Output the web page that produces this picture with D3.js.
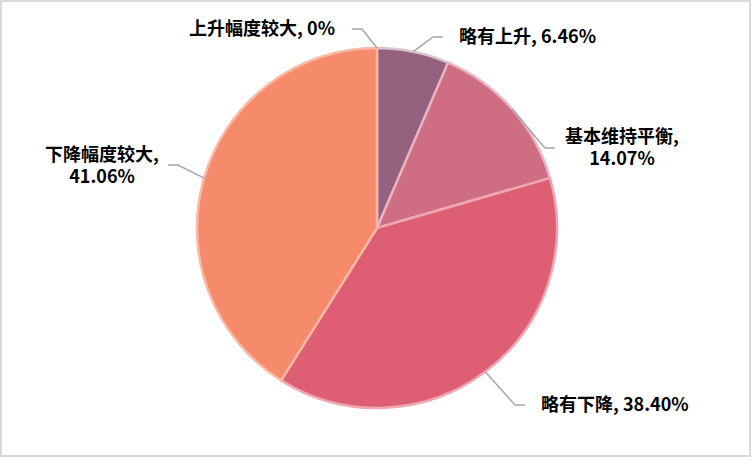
<!DOCTYPE html>
<html>
<head>
<meta charset="utf-8">
<script src="https://cdn.jsdelivr.net/npm/d3@7"></script>
<style>
  html, body { margin: 0; padding: 0; background: #fff; }
  svg { display: block; }
  .lbl { font-family: "Microsoft YaHei", "Noto Sans CJK SC", sans-serif; font-weight: bold; font-size: 18px; fill: #000; }
</style>
</head>
<body>
<svg id="chart" width="753" height="472"></svg>
<script>
// Data
const categories = ["上升幅度较大", "略有上升", "基本维持平衡", "略有下降", "下降幅度较大"];
const values = [0, 6.46, 14.07, 38.40, 41.06];
const valueLabels = ["0%", "6.46%", "14.07%", "38.40%", "41.06%"];

const fills = ["#b0b0c8", "#94627f", "#cf6e82", "#de5f73", "#f58b6b"];
const strokes = ["#e0d0dc", "#d9c3d0", "#eab3bf", "#f0a6b2", "#fab8a2"];

// Label layout, relative to pie centre: elbow of leader, end of the
// horizontal segment, text anchor point
const labelLayout = [
  { elbow: [-15, -199], end: [-25, -199], text: [-42, -199], anchor: "end", lines: 1 },
  { elbow: [56, -191], end: [66, -191], text: [82, -191], anchor: "start", lines: 1 },
  { elbow: [168, -80], end: [178, -80], text: [245, -80], anchor: "middle", lines: 2 },
  { elbow: [138, 177], end: [148, 177], text: [164, 177], anchor: "start", lines: 1 },
  { elbow: [-199, -63], end: [-209, -63], text: [-275, -62], anchor: "middle", lines: 2 }
];

const svg = d3.select("#chart");
const cx = 377, cy = 228, radius = 180;

// Frame
svg.append("rect")
  .attr("x", 1).attr("y", 1)
  .attr("width", 749).attr("height", 455)
  .attr("fill", "#fff")
  .attr("stroke", "#d9d9d9")
  .attr("stroke-width", 2);

const pie = d3.pie().sort(null).value(d => d)(values);
const arc = d3.arc().innerRadius(0).outerRadius(radius);

const g = svg.append("g").attr("transform", `translate(${cx},${cy})`);

g.selectAll(".slice")
  .data(pie)
  .enter()
  .append("path")
  .attr("class", "slice")
  .attr("d", arc)
  .attr("fill", (d, i) => fills[i])
  .attr("stroke", (d, i) => strokes[i])
  .attr("stroke-width", 2.5)
  .attr("stroke-linejoin", "round");

// Leader lines
g.selectAll(".leader")
  .data(pie)
  .enter()
  .append("polyline")
  .attr("class", "leader")
  .attr("fill", "none")
  .attr("stroke", "#a6a6a6")
  .attr("stroke-width", 1.5)
  .attr("points", (d, i) => {
    const a = (d.startAngle + d.endAngle) / 2;
    const p0 = [radius * Math.sin(a), -radius * Math.cos(a)];
    const L = labelLayout[i];
    return [p0, L.elbow, L.end].map(p => p.join(",")).join(" ");
  });

// Labels
pie.forEach((d, i) => {
  const L = labelLayout[i];
  const t = g.append("text")
    .attr("class", "lbl")
    .attr("text-anchor", L.anchor);
  if (L.lines === 1) {
    t.attr("x", L.text[0]).attr("y", L.text[1])
      .attr("dy", "0.35em").text(`${categories[i]}, ${valueLabels[i]}`);
  } else {
    t.append("tspan").attr("x", L.text[0]).attr("y", L.text[1] - 11)
      .attr("dy", "0.35em").text(`${categories[i]},`);
    t.append("tspan").attr("x", L.text[0]).attr("y", L.text[1] + 11)
      .attr("dy", "0.35em").text(valueLabels[i]);
  }
});
</script>
</body>
</html>
